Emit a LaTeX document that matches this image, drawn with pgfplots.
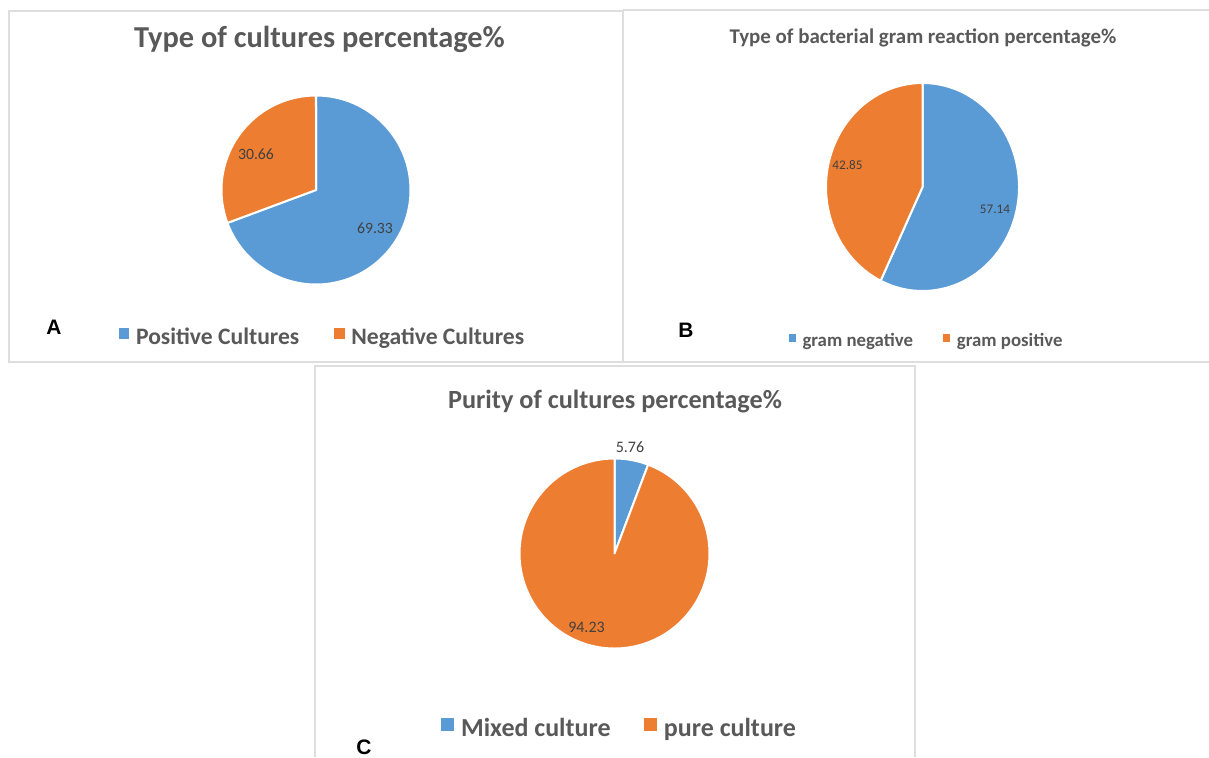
\documentclass[border=0pt]{standalone}
\usepackage{pgfplots}
\pgfplotsset{compat=1.18}
\usepackage{pgfplotstable}
\usepackage{fontspec}
\setmainfont{Carlito}
\newfontfamily\panelfont{Liberation Sans}

\definecolor{sliceblue}{HTML}{5B9BD5}
\definecolor{sliceorange}{HTML}{ED7D31}
\definecolor{titlegrey}{HTML}{595959}
\definecolor{labelgrey}{HTML}{404040}
\definecolor{framegrey}{HTML}{DEDEDE}

% Shares of each pie, in percent
\pgfplotstableread{
share
69.33
30.66
}\culturetype
\pgfplotstableread{
share
57.14
42.85
}\gramtype
\pgfplotstableread{
share
5.76
94.23
}\puritytype

% first and second share of a table into \<name>a and \<name>b
\newcommand\getshares[2]{%
  \pgfplotstablegetelem{0}{share}\of#1%
  \expandafter\let\csname #2a\endcsname\pgfplotsretval
  \pgfplotstablegetelem{1}{share}\of#1%
  \expandafter\let\csname #2b\endcsname\pgfplotsretval}

% one wedge: colour, centre x, centre y, radius x, radius y, start angle, end angle
\newcommand\pieslice[7]{%
  \addplot[fill=#1, draw=white, line width=1.5pt, line join=round,
           domain=#6:#7, samples=150]
    ({#2+#4*cos(x)}, {#3-#5*sin(x)}) -- (axis cs:#2,#3) -- cycle;}

% every panel shares one frame measured in pixels, y running downwards
\pgfplotsset{
  panel/.style={
    hide axis, x=0.75pt, y=0.75pt,
    xmin=0, xmax=1209, ymin=0, ymax=757, y dir=reverse,
    clip=false, at={(0,0)}, anchor=south west,
    legend columns=2,
    legend cell align=left,
    legend style={draw=none, fill=none, inner sep=0pt,
      text=titlegrey, nodes={inner sep=0pt},
      /tikz/every odd column/.append style={column sep=5pt}},
  }
}

\begin{document}%
\begin{tikzpicture}
\getshares\culturetype{cult}
\getshares\gramtype{gram}
\getshares\puritytype{pur}
\pgfmathsetmacro\cultsplit{90-(360/(\culta+\cultb))*\culta}
\pgfmathsetmacro\gramsplit{90-(360/(\grama+\gramb))*\grama}
\pgfmathsetmacro\pursplit{90-(360/(\pura+\purb))*\pura}

% ---------------- A: type of cultures ----------------
\begin{axis}[panel,
  legend image code/.code={\fill[#1,draw=none] (0pt,-1.5pt) rectangle (8pt,6.5pt);},
  legend style={at={(0.2659,0.5548)}, anchor=center,
    font=\bfseries\fontsize{17.7}{20}\selectfont,
    /tikz/every even column/.append style={column sep=26pt}}]
  % panel frames
  \draw[framegrey, line width=1.5pt] (axis cs:9,11) rectangle (axis cs:623,362);
  \draw[framegrey, line width=1.5pt] (axis cs:623,10) -- (axis cs:1209,10);
  \draw[framegrey, line width=1.5pt] (axis cs:623,362) -- (axis cs:1209,362);
  \draw[framegrey, line width=1.5pt] (axis cs:315,757) -- (axis cs:315,366)
        -- (axis cs:915,366) -- (axis cs:915,757);

  \pieslice{sliceblue}{316}{190}{94.5}{94.5}{90}{\cultsplit}
  \addlegendentry{Positive Cultures}
  \pieslice{sliceorange}{316}{190}{94.5}{94.5}{\cultsplit}{-270}
  \addlegendentry{Negative Cultures}

  \node[anchor=base, font=\bfseries\fontsize{22.8}{26}\selectfont, text=titlegrey]
    at (axis cs:319.5,47) {Type of cultures percentage\%};
  \node[font=\fontsize{11.8}{14}\selectfont, text=labelgrey] at (axis cs:375,228.5) {\culta};
  \node[font=\fontsize{11.8}{14}\selectfont, text=labelgrey] at (axis cs:256,154.5) {\cultb};
  \node[font=\panelfont\bfseries\fontsize{15.7}{18}\selectfont] at (axis cs:54,327) {A};
\end{axis}

% ---------------- B: gram reaction ----------------
\begin{axis}[panel,
  legend image code/.code={\fill[#1,draw=none] (0pt,-0.5pt) rectangle (5.5pt,5pt);},
  legend style={at={(0.7655,0.5495)}, anchor=center,
    font=\bfseries\fontsize{14.1}{17}\selectfont,
    /tikz/every even column/.append style={column sep=22.5pt}}]
  \pieslice{sliceblue}{922.5}{187}{96.5}{104}{90}{\gramsplit}
  \addlegendentry{gram negative}
  \pieslice{sliceorange}{922.5}{187}{96.5}{104}{\gramsplit}{-270}
  \addlegendentry{gram positive}

  \node[anchor=base, font=\bfseries\fontsize{15.7}{18}\selectfont, text=titlegrey]
    at (axis cs:923,44) {Type of bacterial gram reaction percentage\%};
  \node[font=\fontsize{9.9}{12}\selectfont, text=labelgrey] at (axis cs:995,209) {\grama};
  \node[font=\fontsize{9.9}{12}\selectfont, text=labelgrey] at (axis cs:847.5,165.5) {\gramb};
  \node[font=\panelfont\bfseries\fontsize{15.7}{18}\selectfont] at (axis cs:686,330) {B};
\end{axis}

% ---------------- C: purity ----------------
\begin{axis}[panel,
  legend image code/.code={\fill[#1,draw=none] (0pt,-2pt) rectangle (10pt,8pt);},
  legend style={at={(0.5116,0.0383)}, anchor=center,
    font=\bfseries\fontsize{19.5}{22}\selectfont,
    /tikz/every even column/.append style={column sep=25pt}}]
  \pieslice{sliceblue}{614.5}{553.5}{95}{95}{90}{\pursplit}
  \addlegendentry{Mixed culture}
  \pieslice{sliceorange}{614.5}{553.5}{95}{95}{\pursplit}{-270}
  \addlegendentry{pure culture}

  \node[anchor=base, font=\bfseries\fontsize{19.7}{23}\selectfont, text=titlegrey]
    at (axis cs:615,408) {Purity of cultures percentage\%};
  \node[font=\fontsize{12}{14}\selectfont, text=labelgrey] at (axis cs:630,447.5) {\pura};
  \node[font=\fontsize{12}{14}\selectfont, text=labelgrey] at (axis cs:586.5,627) {\purb};
  \node[font=\panelfont\bfseries\fontsize{15.7}{18}\selectfont] at (axis cs:364,747) {C};
\end{axis}

% the page is exactly the panel area
\pgfresetboundingbox
\useasboundingbox (0,0) rectangle (906.75pt,567.75pt);
\end{tikzpicture}%
\end{document}
